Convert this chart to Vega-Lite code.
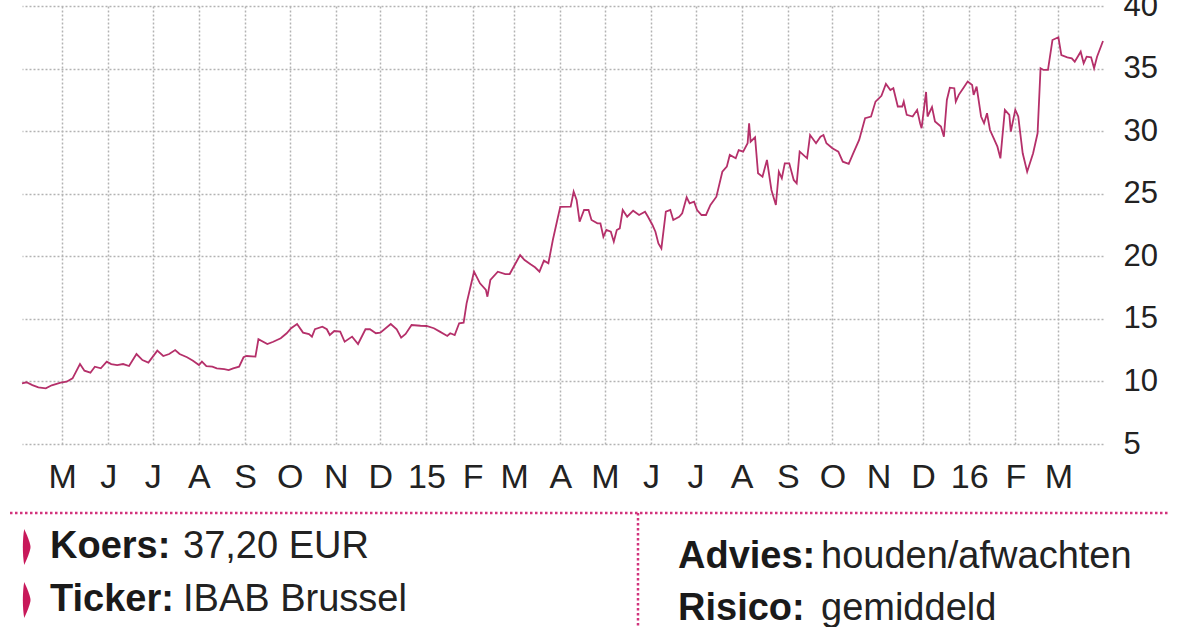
{
  "$schema": "https://vega.github.io/schema/vega-lite/v6.json",
  "width": 1081,
  "height": 438,
  "autosize": {"type": "none"},
  "padding": {"left": 22, "top": 6, "right": 97, "bottom": 183},
  "background": "white",
  "config": {"view": {"stroke": null}, "font": "Liberation Sans"},
  "datasets": {
    "koers": [
      {"datum": "2014-04-04", "koers": 9.85}, {"datum": "2014-04-07", "koers": 9.93}, {"datum": "2014-04-11", "koers": 9.71},
      {"datum": "2014-04-15", "koers": 9.53}, {"datum": "2014-04-20", "koers": 9.45}, {"datum": "2014-04-24", "koers": 9.69},
      {"datum": "2014-04-30", "koers": 9.90}, {"datum": "2014-05-04", "koers": 9.98}, {"datum": "2014-05-08", "koers": 10.25},
      {"datum": "2014-05-13", "koers": 11.39}, {"datum": "2014-05-16", "koers": 10.86}, {"datum": "2014-05-20", "koers": 10.70},
      {"datum": "2014-05-23", "koers": 11.18}, {"datum": "2014-05-27", "koers": 11.05}, {"datum": "2014-05-31", "koers": 11.58},
      {"datum": "2014-06-03", "koers": 11.39}, {"datum": "2014-06-07", "koers": 11.31}, {"datum": "2014-06-11", "koers": 11.39},
      {"datum": "2014-06-15", "koers": 11.23}, {"datum": "2014-06-20", "koers": 12.19}, {"datum": "2014-06-24", "koers": 11.71},
      {"datum": "2014-06-28", "koers": 11.50}, {"datum": "2014-07-04", "koers": 12.46}, {"datum": "2014-07-08", "koers": 12.03},
      {"datum": "2014-07-12", "koers": 12.19}, {"datum": "2014-07-16", "koers": 12.51}, {"datum": "2014-07-19", "koers": 12.19},
      {"datum": "2014-07-24", "koers": 11.93}, {"datum": "2014-07-28", "koers": 11.66}, {"datum": "2014-08-01", "koers": 11.31},
      {"datum": "2014-08-03", "koers": 11.58}, {"datum": "2014-08-06", "koers": 11.23}, {"datum": "2014-08-10", "koers": 11.18},
      {"datum": "2014-08-13", "koers": 11.05}, {"datum": "2014-08-18", "koers": 10.99}, {"datum": "2014-08-21", "koers": 10.91},
      {"datum": "2014-08-24", "koers": 11.05}, {"datum": "2014-08-28", "koers": 11.18}, {"datum": "2014-08-31", "koers": 11.93},
      {"datum": "2014-09-02", "koers": 12.03}, {"datum": "2014-09-08", "koers": 11.98}, {"datum": "2014-09-10", "koers": 13.37},
      {"datum": "2014-09-16", "koers": 12.99}, {"datum": "2014-09-20", "koers": 13.17}, {"datum": "2014-09-25", "koers": 13.45},
      {"datum": "2014-09-29", "koers": 13.85}, {"datum": "2014-10-02", "koers": 14.25}, {"datum": "2014-10-06", "koers": 14.59},
      {"datum": "2014-10-10", "koers": 13.90}, {"datum": "2014-10-14", "koers": 13.79}, {"datum": "2014-10-16", "koers": 13.58},
      {"datum": "2014-10-18", "koers": 14.17}, {"datum": "2014-10-23", "koers": 14.37}, {"datum": "2014-10-26", "koers": 14.17},
      {"datum": "2014-10-28", "koers": 13.71}, {"datum": "2014-10-31", "koers": 14.03}, {"datum": "2014-11-04", "koers": 13.98},
      {"datum": "2014-11-07", "koers": 13.17}, {"datum": "2014-11-12", "koers": 13.58}, {"datum": "2014-11-16", "koers": 12.99},
      {"datum": "2014-11-21", "koers": 14.17}, {"datum": "2014-11-24", "koers": 14.17}, {"datum": "2014-11-28", "koers": 13.85},
      {"datum": "2014-12-01", "koers": 13.90}, {"datum": "2014-12-08", "koers": 14.59}, {"datum": "2014-12-12", "koers": 14.17},
      {"datum": "2014-12-15", "koers": 13.50}, {"datum": "2014-12-18", "koers": 13.79}, {"datum": "2014-12-22", "koers": 14.51},
      {"datum": "2014-12-28", "koers": 14.45}, {"datum": "2015-01-01", "koers": 14.43}, {"datum": "2015-01-06", "koers": 14.25},
      {"datum": "2015-01-10", "koers": 13.98}, {"datum": "2015-01-15", "koers": 13.63}, {"datum": "2015-01-17", "koers": 13.85},
      {"datum": "2015-01-20", "koers": 13.71}, {"datum": "2015-01-23", "koers": 14.65}, {"datum": "2015-01-26", "koers": 14.70},
      {"datum": "2015-01-28", "koers": 16.24}, {"datum": "2015-02-02", "koers": 18.77}, {"datum": "2015-02-06", "koers": 17.84},
      {"datum": "2015-02-10", "koers": 17.31}, {"datum": "2015-02-11", "koers": 16.77}, {"datum": "2015-02-13", "koers": 18.11},
      {"datum": "2015-02-18", "koers": 18.77}, {"datum": "2015-02-23", "koers": 18.58}, {"datum": "2015-02-26", "koers": 18.58},
      {"datum": "2015-03-05", "koers": 20.10}, {"datum": "2015-03-08", "koers": 19.70}, {"datum": "2015-03-12", "koers": 19.36},
      {"datum": "2015-03-15", "koers": 19.12}, {"datum": "2015-03-18", "koers": 18.77}, {"datum": "2015-03-21", "koers": 19.65},
      {"datum": "2015-03-24", "koers": 19.44}, {"datum": "2015-03-27", "koers": 21.30}, {"datum": "2015-03-30", "koers": 22.90},
      {"datum": "2015-04-01", "koers": 23.95}, {"datum": "2015-04-08", "koers": 23.96}, {"datum": "2015-04-10", "koers": 25.16},
      {"datum": "2015-04-12", "koers": 24.50}, {"datum": "2015-04-14", "koers": 22.76}, {"datum": "2015-04-17", "koers": 23.70},
      {"datum": "2015-04-20", "koers": 23.70}, {"datum": "2015-04-22", "koers": 22.90}, {"datum": "2015-04-26", "koers": 22.63},
      {"datum": "2015-04-28", "koers": 22.63}, {"datum": "2015-04-30", "koers": 21.56}, {"datum": "2015-05-02", "koers": 22.10},
      {"datum": "2015-05-05", "koers": 21.96}, {"datum": "2015-05-07", "koers": 21.17}, {"datum": "2015-05-09", "koers": 22.10},
      {"datum": "2015-05-11", "koers": 22.23}, {"datum": "2015-05-13", "koers": 23.70}, {"datum": "2015-05-16", "koers": 23.16},
      {"datum": "2015-05-20", "koers": 23.64}, {"datum": "2015-05-24", "koers": 23.30}, {"datum": "2015-05-28", "koers": 23.56},
      {"datum": "2015-05-30", "koers": 23.16}, {"datum": "2015-06-02", "koers": 22.50}, {"datum": "2015-06-04", "koers": 21.96},
      {"datum": "2015-06-06", "koers": 21.03}, {"datum": "2015-06-08", "koers": 20.63}, {"datum": "2015-06-11", "koers": 23.56},
      {"datum": "2015-06-14", "koers": 23.70}, {"datum": "2015-06-16", "koers": 22.90}, {"datum": "2015-06-20", "koers": 23.16},
      {"datum": "2015-06-22", "koers": 23.43}, {"datum": "2015-06-25", "koers": 24.71}, {"datum": "2015-06-27", "koers": 24.23},
      {"datum": "2015-06-30", "koers": 24.36}, {"datum": "2015-07-02", "koers": 23.70}, {"datum": "2015-07-05", "koers": 23.30},
      {"datum": "2015-07-08", "koers": 23.30}, {"datum": "2015-07-11", "koers": 24.10}, {"datum": "2015-07-15", "koers": 24.76},
      {"datum": "2015-07-19", "koers": 26.76}, {"datum": "2015-07-22", "koers": 27.16}, {"datum": "2015-07-24", "koers": 28.10},
      {"datum": "2015-07-28", "koers": 27.83}, {"datum": "2015-07-30", "koers": 28.49}, {"datum": "2015-08-02", "koers": 28.36},
      {"datum": "2015-08-05", "koers": 29.03}, {"datum": "2015-08-06", "koers": 30.63}, {"datum": "2015-08-07", "koers": 29.16},
      {"datum": "2015-08-10", "koers": 29.51}, {"datum": "2015-08-12", "koers": 26.63}, {"datum": "2015-08-15", "koers": 26.36},
      {"datum": "2015-08-18", "koers": 27.70}, {"datum": "2015-08-21", "koers": 25.30}, {"datum": "2015-08-24", "koers": 24.10},
      {"datum": "2015-08-26", "koers": 26.76}, {"datum": "2015-08-28", "koers": 26.23}, {"datum": "2015-08-30", "koers": 27.43},
      {"datum": "2015-09-02", "koers": 27.43}, {"datum": "2015-09-05", "koers": 26.10}, {"datum": "2015-09-07", "koers": 25.83},
      {"datum": "2015-09-09", "koers": 28.36}, {"datum": "2015-09-14", "koers": 27.83}, {"datum": "2015-09-16", "koers": 29.69},
      {"datum": "2015-09-20", "koers": 29.03}, {"datum": "2015-09-23", "koers": 29.56}, {"datum": "2015-09-25", "koers": 29.69},
      {"datum": "2015-09-27", "koers": 29.03}, {"datum": "2015-10-01", "koers": 28.63}, {"datum": "2015-10-05", "koers": 28.36},
      {"datum": "2015-10-08", "koers": 27.56}, {"datum": "2015-10-12", "koers": 27.38}, {"datum": "2015-10-15", "koers": 28.23},
      {"datum": "2015-10-19", "koers": 29.30}, {"datum": "2015-10-23", "koers": 31.03}, {"datum": "2015-10-27", "koers": 31.17},
      {"datum": "2015-10-30", "koers": 32.36}, {"datum": "2015-11-03", "koers": 32.82}, {"datum": "2015-11-06", "koers": 33.77},
      {"datum": "2015-11-09", "koers": 33.29}, {"datum": "2015-11-11", "koers": 33.43}, {"datum": "2015-11-14", "koers": 31.97},
      {"datum": "2015-11-17", "koers": 31.97}, {"datum": "2015-11-18", "koers": 32.36}, {"datum": "2015-11-20", "koers": 31.30},
      {"datum": "2015-11-24", "koers": 31.17}, {"datum": "2015-11-27", "koers": 31.70}, {"datum": "2015-11-29", "koers": 30.63},
      {"datum": "2015-11-30", "koers": 30.23}, {"datum": "2015-12-03", "koers": 33.13}, {"datum": "2015-12-04", "koers": 31.17},
      {"datum": "2015-12-07", "koers": 31.92}, {"datum": "2015-12-09", "koers": 30.77}, {"datum": "2015-12-13", "koers": 30.37},
      {"datum": "2015-12-15", "koers": 29.56}, {"datum": "2015-12-17", "koers": 32.49}, {"datum": "2015-12-19", "koers": 33.47},
      {"datum": "2015-12-22", "koers": 33.43}, {"datum": "2015-12-23", "koers": 32.36}, {"datum": "2015-12-25", "koers": 32.90},
      {"datum": "2015-12-28", "koers": 33.43}, {"datum": "2015-12-31", "koers": 33.96}, {"datum": "2016-01-03", "koers": 33.69},
      {"datum": "2016-01-04", "koers": 32.90}, {"datum": "2016-01-06", "koers": 33.56}, {"datum": "2016-01-09", "koers": 31.17},
      {"datum": "2016-01-11", "koers": 30.63}, {"datum": "2016-01-13", "koers": 31.43}, {"datum": "2016-01-15", "koers": 30.09},
      {"datum": "2016-01-17", "koers": 29.56}, {"datum": "2016-01-20", "koers": 28.76}, {"datum": "2016-01-22", "koers": 27.83},
      {"datum": "2016-01-25", "koers": 31.70}, {"datum": "2016-01-28", "koers": 31.30}, {"datum": "2016-01-29", "koers": 29.96},
      {"datum": "2016-02-01", "koers": 31.70}, {"datum": "2016-02-03", "koers": 31.17}, {"datum": "2016-02-06", "koers": 28.23},
      {"datum": "2016-02-09", "koers": 26.76}, {"datum": "2016-02-13", "koers": 28.23}, {"datum": "2016-02-16", "koers": 29.83},
      {"datum": "2016-02-18", "koers": 35.02}, {"datum": "2016-02-20", "koers": 34.89}, {"datum": "2016-02-23", "koers": 34.89},
      {"datum": "2016-02-26", "koers": 37.28}, {"datum": "2016-03-01", "koers": 37.50}, {"datum": "2016-03-03", "koers": 36.08},
      {"datum": "2016-03-07", "koers": 35.90}, {"datum": "2016-03-10", "koers": 35.82}, {"datum": "2016-03-12", "koers": 35.55},
      {"datum": "2016-03-16", "koers": 36.35}, {"datum": "2016-03-18", "koers": 35.42}, {"datum": "2016-03-20", "koers": 35.95},
      {"datum": "2016-03-23", "koers": 35.90}, {"datum": "2016-03-25", "koers": 35.02}, {"datum": "2016-03-27", "koers": 35.95},
      {"datum": "2016-03-31", "koers": 37.20}
    ],
    "panel": [
      {"kolom": 2, "nr": 2, "kop": "Koers:", "waarde": "37,20 EUR"},
      {"kolom": 2, "nr": 4, "kop": "Ticker:", "waarde": "IBAB Brussel"},
      {"kolom": 3, "nr": 3, "kop": "Advies:", "waarde": "houden/afwachten"},
      {"kolom": 3, "nr": 5, "kop": "Risico:", "waarde": "gemiddeld"}
    ]
  },
  "layer": [
    {
      "data": {"name": "koers"},
      "mark": {"type": "line", "color": "#b5306a", "strokeWidth": 1.8},
      "encoding": {
        "x": {
          "field": "datum", "type": "temporal",
          "scale": {"type": "utc", "domain": ["2014-04-04", "2016-03-31"]},
          "axis": {
            "title": null,
            "tickCount": {"interval": "month", "step": 1},
            "labelExpr": "utcmonth(datum.value) == 0 ? utcFormat(datum.value, '%y') : ['J','F','M','A','M','J','J','A','S','O','N','D'][utcmonth(datum.value)]",
            "labelFont": "Liberation Sans", "labelFontSize": 34, "labelColor": "#222222",
            "labelPadding": 16, "ticks": false, "domain": false,
            "grid": true, "gridColor": "#b3b3b3", "gridDash": [2, 2], "gridWidth": 1.5,
            "labelFlush": false, "labelOverlap": false, "labelBound": false
          }
        },
        "y": {
          "field": "koers", "type": "quantitative",
          "scale": {"domain": [5, 40], "nice": false, "zero": false},
          "axis": {
            "orient": "right", "title": null,
            "values": [5, 10, 15, 20, 25, 30, 35, 40],
            "labelFont": "Liberation Sans", "labelFontSize": 31, "labelColor": "#222222",
            "labelPadding": 20, "ticks": false, "domain": false,
            "grid": true, "gridColor": "#b3b3b3", "gridDash": [2, 2], "gridWidth": 1.5,
            "labelFlush": false, "labelOverlap": false, "labelBound": false
          }
        }
      }
    },
    {
      "data": {"name": "panel"},
      "layer": [
        {
          "data": {"values": [{"lijn": "boven"}]},
          "mark": {"type": "rule", "color": "#d2337c", "strokeWidth": 2.5, "strokeDash": [2.5, 2.5]},
          "encoding": {
            "x": {"datum": 1, "type": "quantitative", "axis": null,
                  "scale": {"domain": [1, 2, 2.5, 3, 4], "range": [-12, 28, 616, 656, 1148], "nice": false, "zero": false}},
            "x2": {"datum": 4},
            "y": {"datum": 1, "type": "quantitative", "axis": null,
                  "scale": {"domain": [1, 2, 3, 4, 5, 6], "range": [507, 541, 551, 594, 603, 621], "nice": false, "zero": false}}
          }
        },
        {
          "data": {"values": [{"lijn": "midden"}]},
          "mark": {"type": "rule", "color": "#d2337c", "strokeWidth": 2.5, "strokeDash": [2.5, 2.5]},
          "encoding": {
            "x": {"datum": 2.5, "type": "quantitative", "axis": null},
            "y": {"datum": 1, "type": "quantitative", "axis": null},
            "y2": {"datum": 6}
          }
        },
        {
          "transform": [{"filter": "datum.kolom == 2"}],
          "mark": {"type": "point", "filled": true, "color": "#c8185a", "opacity": 1, "strokeWidth": 0,
                   "size": 1300, "xOffset": -24,
                   "shape": "M -0.1 -1 C 0.15 -0.45 0.25 -0.15 0.25 0 C 0.25 0.15 0.15 0.45 -0.1 1 C -0.2 0.4 -0.2 -0.4 -0.1 -1 Z"},
          "encoding": {
            "x": {"field": "kolom", "type": "quantitative", "axis": null},
            "y": {"field": "nr", "type": "quantitative", "axis": null}
          }
        },
        {
          "mark": {"type": "text", "align": "left", "baseline": "middle", "font": "Liberation Sans",
                   "fontWeight": "bold", "fontSize": 38, "color": "#1a1a1a"},
          "encoding": {
            "x": {"field": "kolom", "type": "quantitative", "axis": null},
            "y": {"field": "nr", "type": "quantitative", "axis": null},
            "text": {"field": "kop"}
          }
        },
        {
          "transform": [{"filter": "datum.kolom == 2"}],
          "mark": {"type": "text", "align": "left", "baseline": "middle", "font": "Liberation Sans",
                   "fontSize": 38, "color": "#222222", "dx": 133},
          "encoding": {
            "x": {"field": "kolom", "type": "quantitative", "axis": null},
            "y": {"field": "nr", "type": "quantitative", "axis": null},
            "text": {"field": "waarde"}
          }
        },
        {
          "transform": [{"filter": "datum.kolom == 3"}],
          "mark": {"type": "text", "align": "left", "baseline": "middle", "font": "Liberation Sans",
                   "fontSize": 38, "color": "#222222", "dx": 143},
          "encoding": {
            "x": {"field": "kolom", "type": "quantitative", "axis": null},
            "y": {"field": "nr", "type": "quantitative", "axis": null},
            "text": {"field": "waarde"}
          }
        }
      ]
    }
  ],
  "resolve": {"scale": {"x": "independent", "y": "independent"}}
}
